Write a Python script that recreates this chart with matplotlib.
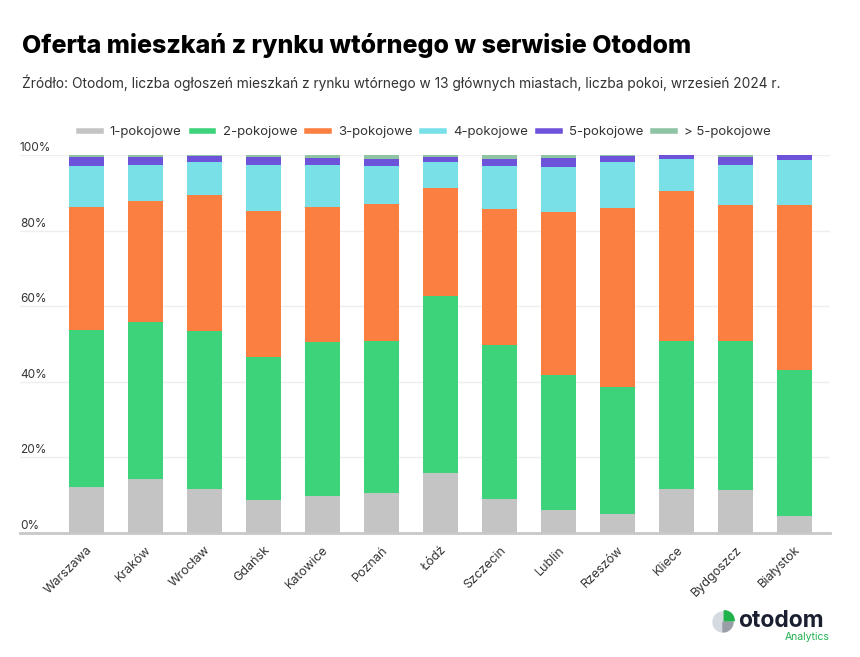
import matplotlib
matplotlib.use("Agg")
import matplotlib.pyplot as plt
from matplotlib.patches import Wedge
import matplotlib.transforms as mtransforms
import numpy as np

cities = ["Warszawa", "Kraków", "Wrocław", "Gdańsk", "Katowice", "Poznań", "Łódź",
          "Szczecin", "Lublin", "Rzeszów", "Kliece", "Bydgoszcz", "Białystok"]
series_names = ["1-pokojowe", "2-pokojowe", "3-pokojowe", "4-pokojowe", "5-pokojowe", "> 5-pokojowe"]
p1 = [12.3, 14.3, 11.7, 8.8, 9.8, 10.6, 15.9, 9.0, 6.1, 5.0, 11.7, 11.4, 4.5]
p2 = [41.3, 41.4, 41.7, 37.7, 40.6, 40.1, 46.7, 40.7, 35.8, 33.5, 39.0, 39.3, 38.7]
p3 = [32.6, 32.1, 36.0, 38.6, 35.8, 36.3, 28.6, 36.1, 43.0, 47.4, 39.7, 36.0, 43.5]
p4 = [10.9, 9.5, 8.7, 12.2, 11.1, 10.1, 6.9, 11.3, 11.9, 12.2, 8.5, 10.6, 12.0]
p5 = [2.4, 2.2, 1.6, 2.2, 1.9, 1.8, 1.4, 1.8, 2.4, 1.6, 1.0, 2.2, 1.2]
p6 = [0.5, 0.5, 0.3, 0.5, 0.8, 1.1, 0.5, 1.1, 0.8, 0.3, 0.1, 0.5, 0.1]
colors = ["#c4c4c4", "#3dd37a", "#fa7f40", "#79e0e8", "#6d53d9", "#8ec4a4"]
yticks = [0, 20, 40, 60, 80, 100]

plt.rcParams['font.family'] = ['Inter', 'DejaVu Sans']

fig = plt.figure(figsize=(8.6, 6.57), dpi=100)
ax = fig.add_axes([20/860, 1-533/657, 810/860, 378/657])

x = np.arange(len(cities))
bottom = np.zeros(len(cities))
for name, vals, col in zip(series_names, [p1, p2, p3, p4, p5, p6], colors):
    vals = np.array(vals)
    ax.bar(x, vals, bottom=bottom, width=0.593, color=col, label=name, zorder=3, linewidth=0)
    bottom += vals

ax.set_xlim(-1.127, 12.6)
ax.set_ylim(0, 100)
ax.set_yticks(yticks)
ax.set_yticklabels([f"{v}%" for v in yticks], fontsize=8.5, color="#333333")
ax.tick_params(axis='y', length=0, pad=0)
offset = mtransforms.ScaledTranslation(0, 1/100, fig.dpi_scale_trans)
for lab in ax.get_yticklabels():
    lab.set_ha('left')
    lab.set_va('bottom')
    lab.set_transform(lab.get_transform() + offset)
ax.grid(axis='y', color="#eeeeee", linewidth=1, zorder=0)
for s in ["top", "right", "left"]:
    ax.spines[s].set_visible(False)
ax.spines["bottom"].set_color("#c8c8c8")
ax.spines["bottom"].set_linewidth(2)
ax.spines["bottom"].set_zorder(4)

ax.set_xticks(x)
ax.set_xticklabels(cities, rotation=45, ha='right', rotation_mode='anchor', fontsize=9, color="#333333")
ax.tick_params(axis='x', length=0, pad=8)

handles = [plt.Line2D([0], [0], color=c, lw=4) for c in colors]
ax.legend(handles, series_names, loc='center', bbox_to_anchor=(0.5, 1 + 23/378), ncol=6,
          frameon=False, fontsize=9.5, handlelength=1.65, columnspacing=0.75, handletextpad=0.7,
          labelcolor="#333333")

fig.text(22/860, 1-45/657, "Oferta mieszkań z rynku wtórnego w serwisie Otodom",
         fontsize=18, fontweight='heavy', color="#000000", va='center', ha='left')
fig.text(22/860, 1-83/657,
         "Źródło: Otodom, liczba ogłoszeń mieszkań z rynku wtórnego w 13 głównych miastach, liczba pokoi, wrzesień 2024 r.",
         fontsize=9.9, color="#333333", va='center', ha='left')

# logo
lax = fig.add_axes([711/860, 1-634/657, 24/860, 24/657])
lax.set_xlim(-1.2, 1.2); lax.set_ylim(-1.2, 1.2); lax.set_aspect('equal'); lax.axis('off')
lax.add_patch(Wedge((0, 0), 1, 90, 270, color="#d5d9e0"))
lax.add_patch(Wedge((0, 0), 1, 270, 360, color="#9a9ea6"))
lax.add_patch(Wedge((0.12, 0.12), 1, 0, 90, color="#1fb14a"))
fig.text(738/860, 1-627/657, "otodom", fontsize=16.5, fontweight='bold', color="#1b2030", va='baseline', ha='left')
fig.text(830/860, 1-640/657, "Analytics", fontsize=7.5, color="#22b050", va='baseline', ha='right')

fig.savefig("out.png", dpi=100)
